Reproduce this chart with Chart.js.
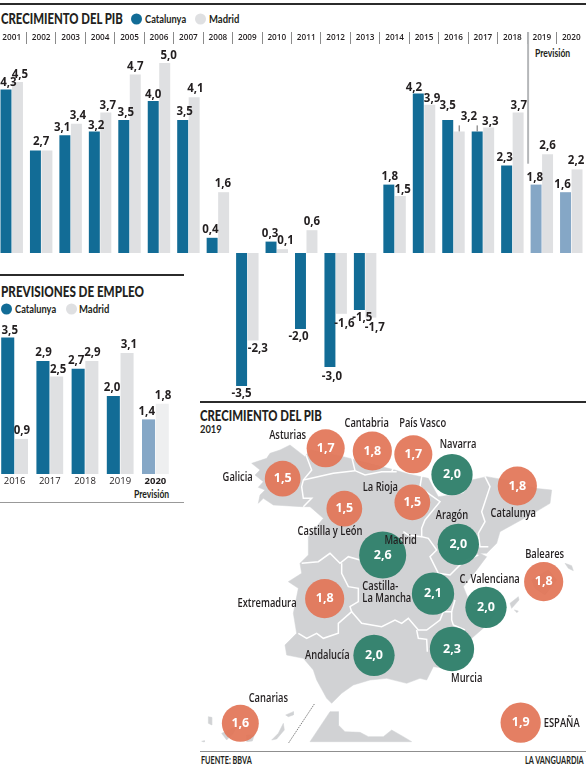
<!DOCTYPE html>
<html>
<head>
<meta charset="utf-8">
<title>Crecimiento del PIB</title>
<script src="https://cdn.jsdelivr.net/npm/chart.js@4"></script>
<style>
html, body { margin: 0; padding: 0; background: #fff; }
body { position: relative; width: 586px; height: 765px; overflow: hidden; color: #231f20; font-family: Lato, sans-serif; }
canvas { position: absolute; }
.t { position: absolute; white-space: nowrap; font-weight: 700; line-height: 1; transform: translateY(-50%); transform-origin: left center; }
.title { font-size: 15px; font-weight: 900; }
.key { font-size: 12px; }
.small { font-size: 11px; }
.dot { position: absolute; width: 11px; height: 11px; border-radius: 50%; transform: translateY(-50%); }
.rule { position: absolute; }
</style>
</head>
<body>
<div class="rule" style="left:0;top:3px;width:586px;height:2px;background:#2b2b2b"></div>
<div class="t title" data-w="122" style="left:1px;top:18px">CRECIMIENTO DEL PIB</div>
<div class="dot" style="left:131px;top:18.5px;background:#126c96"></div>
<div class="t key" data-w="41" style="left:145px;top:18.5px">Catalunya</div>
<div class="dot" style="left:195px;top:18.5px;background:#dfe0e2"></div>
<div class="t key" data-w="30" style="left:209px;top:18.5px">Madrid</div>
<div class="t small" data-w="35" style="left:535px;top:51.5px">Previsión</div>

<div class="rule" style="left:0;top:274px;width:184px;height:2px;background:#2b2b2b"></div>
<div class="t title" data-w="143" style="left:1px;top:291px">PREVISIONES DE EMPLEO</div>
<div class="dot" style="left:1px;top:308.5px;background:#126c96"></div>
<div class="t key" data-w="41" style="left:15px;top:308.5px">Catalunya</div>
<div class="dot" style="left:66px;top:308.5px;background:#dfe0e2"></div>
<div class="t key" data-w="30" style="left:79px;top:308.5px">Madrid</div>
<div class="t small" data-w="35" style="left:134px;top:492.5px">Previsión</div>
<div class="rule" style="left:0;top:502px;width:184px;height:1px;background:#999"></div>

<div class="rule" style="left:200px;top:401px;width:386px;height:2px;background:#2b2b2b"></div>
<div class="t title" data-w="122" style="left:200px;top:415px">CRECIMIENTO DEL PIB</div>
<div class="t small" data-w="22" style="left:200px;top:428px">2019</div>
<div class="rule" style="left:200px;top:751px;width:386px;height:1px;background:#8f8f8f"></div>
<div class="t small" data-w="51" style="left:201px;top:758.5px">FUENTE: BBVA</div>
<div class="t small" data-w="58.5" style="left:525px;top:759px">LA VANGUARDIA</div>

<canvas id="pibChart" width="589" height="405" style="left:-3px;top:0"></canvas>
<canvas id="empleoChart" width="176" height="182" style="left:-3px;top:318px"></canvas>
<canvas id="mapChart" width="391" height="365" style="left:195px;top:400px"></canvas>

<script>
const CATALUNYA = "#126c96";
const CATALUNYA_PREV = "#85a7c6";
const MADRID = "#dfe0e2";
const MADRID_PREV = "#eeeff0";
const INK = "#231f20";
const LAND = "#d1d2d4";

// crecimiento del PIB
const pibYears = ["2001","2002","2003","2004","2005","2006","2007","2008","2009","2010","2011","2012","2013","2014","2015","2016","2017","2018","2019","2020"];
const pibCatalunya = [4.3,2.7,3.1,3.2,3.5,4.0,3.5,0.4,-3.5,0.3,-2.0,-3.0,-1.5,1.8,4.2,3.5,3.2,2.3,1.8,1.6];
const pibMadrid = [4.5,2.7,3.4,3.7,4.7,5.0,4.1,1.6,-2.3,0.1,0.6,-1.6,-1.7,1.5,3.9,3.2,3.3,3.7,2.6,2.2];

// previsiones de empleo
const empleoYears = ["2016","2017","2018","2019","2020"];
const empleoCatalunya = [3.5,2.9,2.7,2.0,1.4];
const empleoMadrid = [0.9,2.5,2.9,3.1,1.8];

// mapa: unidades de mapa
const regionNames = ["Asturias","Cantabria","País Vasco","Navarra","Galicia","La Rioja","Castilla y León","Catalunya","Aragón","Madrid","Baleares","Castilla-La Mancha","C. Valenciana","Extremadura","Andalucía","Murcia","Canarias","ESPAÑA"];
const regionValues = [1.7,1.8,1.7,2.0,1.5,1.5,1.5,1.8,2.0,2.6,1.8,2.1,2.0,1.8,2.0,2.3,1.6,1.9];
const regionX = [392,532,655,771,263,652,448,967,790,563,1046,714,873,389,537,771,136,977];
const regionY = [145,153,163,224,236,307,326,258,433,465,545,581,622,596,766,747,970,968];
const nameX = [278,515,683,789,128,556,405,955,771,617,1049,571,884,216,397,815,220,1100];
const nameY = [108,72,72,135,234,264,396,340,348,423,465,579,540,612,768,837,897,972];

const peninsula = [[170,190],[215,175],[225,160],[255,150],[285,135],[330,170],[345,150],[445,170],[520,190],[600,210],[640,222],[700,235],[712,258],[730,290],[805,280],[830,240],[875,230],[960,245],[1020,265],[1070,270],[1065,310],[1015,340],[915,395],[905,430],[875,460],[855,460],[875,470],[845,510],[805,560],[825,610],[900,640],[870,680],[830,715],[835,770],[790,810],[715,800],[695,840],[675,835],[635,850],[575,835],[525,840],[475,855],[440,880],[410,910],[395,895],[365,840],[355,810],[325,775],[275,765],[270,735],[305,700],[295,640],[310,565],[280,545],[320,520],[315,490],[340,465],[340,410],[385,355],[345,320],[320,320],[235,315],[205,295],[190,310],[195,285],[210,270],[190,262],[205,245],[180,225],[195,210],[170,190]];
const morocco = [[405,935],[430,935],[430,975],[450,995],[495,997],[520,1010],[565,1010],[590,990],[625,1010],[650,1025],[345,1025],[405,935]];
const islands = [
  [[1110,490],[1130,497],[1135,512],[1120,505],[1110,490]],
  [[1010,540],[1060,510],[1085,540],[1050,585],[1020,565],[1010,540]],
  [[945,610],[970,590],[972,600],[950,625],[945,610]],
  [[958,630],[970,633],[966,638],[958,630]],
  [[40,950],[50,952],[50,975],[40,970],[40,950]],
  [[80,1000],[125,980],[115,1000],[95,1020],[80,1000]],
  [[155,1005],[178,1005],[172,1023],[155,1025],[155,1005]],
  [[230,1020],[250,1000],[265,970],[268,990],[245,1017],[230,1020]],
  [[272,945],[295,935],[295,945],[280,950],[272,945]],
  [[20,1024],[28,1022],[28,1026],[20,1024]]
];
const borders = [
  [[333,165],[350,210],[325,240],[320,260],[325,295],[350,295],[325,320]],
  [[325,240],[415,220],[480,212],[510,225],[560,215],[605,215]],
  [[480,212],[470,170]],
  [[590,215],[600,195]],
  [[710,210],[680,230],[675,260],[700,280],[735,305],[690,360],[680,385],[680,410],[700,415],[725,450],[705,470],[730,520],[765,525],[805,485],[850,465]],
  [[625,395],[640,405],[680,410]],
  [[870,230],[885,260],[870,305],[860,335],[870,365],[850,400],[855,440],[880,440]],
  [[320,490],[370,485],[405,460],[435,490],[460,470],[495,480]],
  [[440,490],[440,520],[460,560],[490,565],[490,605],[465,620],[470,635],[430,670],[430,700],[385,715],[365,700],[335,715],[310,700]],
  [[470,635],[500,670],[560,680],[600,660],[620,670],[640,655],[670,690],[695,690],[735,660],[745,635],[770,635],[770,660],[775,675],[810,690]],
  [[665,690],[670,715],[695,718],[697,755]],
  [[770,635],[780,600]]
];
const canariasLine = [[358,912],[280,1030]];

// ajustes de las etiquetas respecto a su barra
const pibCatNudge = [[2.5,1.5],[5.7,-1],[-2.7,0.7],[1.8,2],[2,1],[0,1.3],[2,0],[-1.7,0],[0,0],[-1,0],[-2,0],[2,1.3],[3,0],[1,0],[-4.3,2.3],[0,-6],[-8.3,-6.3],[-2,0],[-1.3,0.7],[-3,0.3]];
const pibMadNudge = [[2.4,1],null,[1.5,0.3],[2,1],[0,0],[4,0.3],[1.3,-0.4],[-0.7,0],[4.7,0.3],[3,0],[0,0],[3,1.6],[4,1.7],[2.3,1.3],[2.3,1.6],null,[1.6,2.6],[0.7,1.7],[0,-0.7],[-1,-0.7]];
const empleoCatNudge = [[2,1],[0.6,0],[-2,0],[-1.3,0],[-1.8,0]];
const empleoMadNudge = [[0.4,0],[1.5,1.7],[0.5,0],[1.8,0],[0.8,0]];

// textos estrechos: no hay fuente condensada instalada
document.querySelectorAll("[data-w]").forEach(el => {
  const k = el.dataset.w / el.offsetWidth;
  el.style.transform = "translateY(-50%) scaleX(" + k + ")";
});

function comma(v) {
  return v.toFixed(1).replace(".", ",");
}

// etiquetas de valor encima/debajo de cada barra
const valueLabels = {
  id: "valueLabels",
  afterDatasetsDraw(chart, args, opts) {
    const ctx = chart.ctx;
    ctx.save();
    ctx.font = "bold 11.5px 'Open Sans'";
    ctx.fillStyle = INK;
    ctx.textAlign = "center";
    ctx.textBaseline = "middle";
    chart.data.datasets.forEach((ds, d) => {
      chart.getDatasetMeta(d).data.forEach((bar, i) => {
        const nudge = opts.nudges[d][i];
        if (!nudge) return;
        const off = ds.data[i] < 0 ? 8 : -8;
        ctx.fillText(comma(ds.data[i]), bar.x + nudge[0], bar.y + off + nudge[1]);
      });
    });
    ctx.restore();
  }
};

// línea de previsión y las dos guías del 3,2 compartido
const pibExtras = {
  id: "pibExtras",
  afterDatasetsDraw(chart) {
    const ctx = chart.ctx;
    const x = chart.scales.x;
    const y = chart.scales.y;
    const sep = (x.getPixelForTick(17) + x.getPixelForTick(18)) / 2;
    ctx.save();
    ctx.strokeStyle = "#b5b7b9";
    ctx.lineWidth = 2;
    ctx.beginPath();
    ctx.moveTo(sep + 1, 32);
    ctx.lineTo(sep + 1, y.getPixelForValue(2.35));
    ctx.stroke();
    ctx.strokeStyle = "#666";
    ctx.lineWidth = 1;
    [chart.getDatasetMeta(1).data[15], chart.getDatasetMeta(0).data[16]].forEach(bar => {
      ctx.beginPath();
      ctx.moveTo(bar.x, bar.y);
      ctx.lineTo(bar.x, bar.y - 6);
      ctx.stroke();
    });
    ctx.restore();
  }
};

new Chart(document.getElementById("pibChart"), {
  type: "bar",
  data: {
    labels: pibYears,
    datasets: [
      { label: "Catalunya", data: pibCatalunya, backgroundColor: pibYears.map(y => y >= "2019" ? CATALUNYA_PREV : CATALUNYA) },
      { label: "Madrid", data: pibMadrid, backgroundColor: MADRID }
    ]
  },
  options: {
    responsive: false,
    animation: false,
    events: [],
    categoryPercentage: 0.78,
    barPercentage: 0.955,
    layout: { padding: 0 },
    plugins: {
      legend: { display: false },
      tooltip: { enabled: false },
      valueLabels: { nudges: [pibCatNudge, pibMadNudge] }
    },
    scales: {
      x: {
        position: "top",
        afterFit: s => { s.height = 44; },
        border: { display: false },
        grid: { drawOnChartArea: false, tickLength: 12, color: "#8a8a8a", offset: true },
        ticks: { autoSkip: false, maxRotation: 0, padding: -11, color: INK, font: { family: "Open Sans", size: 8.2, weight: "600" } }
      },
      y: { display: false, min: -4, max: 5.5 }
    }
  },
  plugins: [valueLabels, pibExtras]
});

new Chart(document.getElementById("empleoChart"), {
  type: "bar",
  data: {
    labels: empleoYears,
    datasets: [
      { label: "Catalunya", data: empleoCatalunya, backgroundColor: [CATALUNYA, CATALUNYA, CATALUNYA, CATALUNYA, CATALUNYA_PREV] },
      { label: "Madrid", data: empleoMadrid, backgroundColor: [MADRID, MADRID, MADRID, MADRID, MADRID_PREV] }
    ]
  },
  options: {
    responsive: false,
    animation: false,
    events: [],
    categoryPercentage: 0.78,
    barPercentage: 0.95,
    plugins: {
      legend: { display: false },
      tooltip: { enabled: false },
      valueLabels: { nudges: [empleoCatNudge, empleoMadNudge] }
    },
    scales: {
      x: {
        afterFit: s => { s.height = 26; },
        border: { display: false },
        grid: { display: false, drawTicks: false, tickLength: 0 },
        ticks: {
          autoSkip: false,
          maxRotation: 0,
          padding: 2,
          color: INK,
          font: ctx => ({ family: "Open Sans", size: 9.5, weight: ctx.index === 4 ? "700" : "400" })
        }
      },
      y: { display: false, min: 0, max: 4 }
    }
  },
  plugins: [valueLabels]
});

function toPoints(list) {
  return list.map(p => ({ x: p[0], y: p[1] }));
}

const landDatasets = [peninsula, morocco, ...islands].map(shape => ({
  type: "scatter",
  data: toPoints(shape),
  showLine: true,
  fill: "shape",
  backgroundColor: LAND,
  borderColor: LAND,
  borderWidth: 0.5,
  pointRadius: 0,
  order: 3
}));
const borderDatasets = borders.map(line => ({
  type: "scatter",
  data: toPoints(line),
  showLine: true,
  borderColor: "#fff",
  borderWidth: 1.5,
  pointRadius: 0,
  order: 2
}));
const dashDataset = {
  type: "scatter",
  data: toPoints(canariasLine),
  showLine: true,
  borderColor: "#444",
  borderWidth: 0.7,
  borderDash: [1.5, 1],
  pointRadius: 0,
  order: 2
};
const bubbleDataset = {
  type: "bubble",
  data: regionValues.map((v, i) => ({ x: regionX[i], y: regionY[i], r: 14.6 * Math.sqrt(v) })),
  backgroundColor: regionValues.map(v => v >= 2 ? "rgba(50,129,108,0.97)" : "rgba(226,116,86,0.92)"),
  borderWidth: 0,
  order: 1
};

function narrowText(ctx, text, px, py, k) {
  ctx.save();
  ctx.translate(px, py);
  ctx.scale(k, 1);
  ctx.fillText(text, 0, 0);
  ctx.restore();
}

// valores dentro de las burbujas y nombres de las regiones
const mapLabels = {
  id: "mapLabels",
  afterDatasetsDraw(chart) {
    const ctx = chart.ctx;
    const x = chart.scales.x;
    const y = chart.scales.y;
    ctx.save();
    ctx.textAlign = "center";
    ctx.textBaseline = "middle";
    ctx.fillStyle = "#fff";
    ctx.font = "bold 12.5px 'Open Sans'";
    regionValues.forEach((v, i) => {
      ctx.fillText(comma(v), x.getPixelForValue(regionX[i]), y.getPixelForValue(regionY[i]));
    });
    ctx.fillStyle = INK;
    ctx.font = "600 12px 'Open Sans'";
    regionNames.forEach((name, i) => {
      const px = x.getPixelForValue(nameX[i]);
      const py = y.getPixelForValue(nameY[i]);
      if (name === "Castilla-La Mancha") {
        ctx.textAlign = "left";
        narrowText(ctx, "Castilla-", x.getPixelForValue(502), py - 6, 0.78);
        narrowText(ctx, "La Mancha", x.getPixelForValue(502), py + 6, 0.78);
        ctx.textAlign = "center";
      } else {
        narrowText(ctx, name, px, py, 0.78);
      }
    });
    ctx.restore();
  }
};

new Chart(document.getElementById("mapChart"), {
  type: "scatter",
  data: { datasets: [...landDatasets, ...borderDatasets, dashDataset, bubbleDataset] },
  options: {
    responsive: false,
    animation: false,
    events: [],
    layout: { padding: 0, autoPadding: false },
    plugins: { legend: { display: false }, tooltip: { enabled: false } },
    scales: {
      x: { type: "linear", display: false, min: 0, max: 1173 },
      y: { type: "linear", display: false, min: 0, max: 1095, reverse: true }
    }
  },
  plugins: [mapLabels]
});
</script>
</body>
</html>
